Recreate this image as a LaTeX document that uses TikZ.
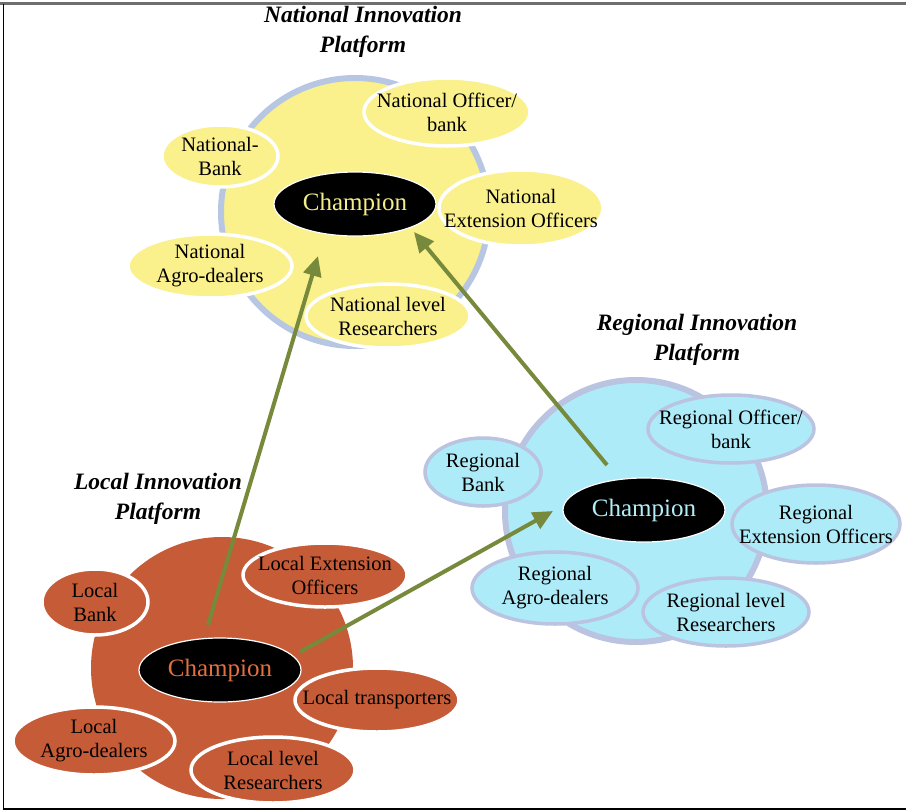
\documentclass[tikz,border=0pt]{standalone}
\usepackage{fontspec}
\setmainfont{Liberation Serif}
\usetikzlibrary{shapes.geometric,arrows.meta}

\definecolor{natfill}{HTML}{FAF08C}
\definecolor{natring}{HTML}{B7C7E3}
\definecolor{natchamp}{HTML}{F3EE8A}
\definecolor{regfill}{HTML}{AEEBF8}
\definecolor{regring}{HTML}{BAC3E0}
\definecolor{regchamp}{HTML}{B3EEF8}
\definecolor{locfill}{HTML}{C65B38}
\definecolor{locchamp}{HTML}{E2703F}
\definecolor{arrowgreen}{HTML}{77893A}
\definecolor{framegray}{HTML}{6E6E6E}

\begin{document}
\begin{tikzpicture}[x=1pt,y=-1pt,
  platform/.style={circle, inner sep=0pt},
  member/.style={ellipse, inner sep=0pt, line width=3.5pt,
    label={[align=center, inner sep=0pt, font=\fontsize{20.5}{24}\selectfont]center:#1}},
  champ/.style={ellipse, inner sep=0pt, fill=black, draw=white, line width=1.2pt,
    minimum width=162pt, minimum height=64pt, font=\fontsize{25}{28}\selectfont},
  ptitle/.style={align=center, font=\fontsize{23.5}{30}\selectfont\bfseries\itshape},
  link/.style={draw=arrowgreen, line width=4pt,
    -{Triangle[length=20pt,width=18pt,fill=arrowgreen]}},
  natmember/.style={member={#1}, fill=natfill, draw=white},
  regmember/.style={member={#1}, fill=regfill, draw=regring},
  locmember/.style={member={#1}, fill=locfill, draw=white}]
\useasboundingbox (0,0) rectangle (906,812);

% frame
\draw[framegray, line width=2.2pt] (0,3.5) -- (906,3.5);
\draw[black, line width=1.6pt] (3.5,4) -- (3.5,809) -- (906,809);

% ---------- National platform ----------
\node[ptitle] (ntitle) at (363,32) {National Innovation\\Platform};
\node[platform, fill=natfill, draw=natring, line width=6pt, minimum size=268pt] (nplat) at (355,212) {};
\node[natmember={National Officer/\\bank}, minimum width=166pt, minimum height=68pt] (nofficer) at (447,112) {};
\node[natmember={National-\\Bank}, minimum width=116pt, minimum height=62pt] (nbank) at (220,156) {};
\node[natmember={National\\Extension Officers}, minimum width=164pt, minimum height=76pt] (next) at (521,208) {};
\node[natmember={National\\Agro-dealers}, minimum width=164pt, minimum height=64pt] (nagro) at (210,266) {};
\node[natmember={National level\\Researchers}, minimum width=164pt, minimum height=64pt] (nres) at (388,316) {};
\node[champ, text=natchamp] (nchamp) at (355,204) {Champion};

% ---------- Regional platform ----------
\node[ptitle] (rtitle) at (697,340) {Regional Innovation\\Platform};
\node[platform, fill=regfill, draw=regring, line width=6pt, minimum size=262pt] (rplat) at (636,511) {};
\node[regmember={Regional Officer/\\bank}, minimum width=166pt, minimum height=68pt] (rofficer) at (731,429) {};
\node[regmember={Regional\\Bank}, minimum width=116pt, minimum height=68pt] (rbank) at (483,472) {};
\node[regmember={Regional\\Extension Officers}, minimum width=168pt, minimum height=78pt] (rext) at (816,524) {};
\node[regmember={Regional\\Agro-dealers}, minimum width=166pt, minimum height=72pt] (ragro) at (555,588) {};
\node[regmember={Regional level\\Researchers}, minimum width=166pt, minimum height=68pt] (rres) at (726,612) {};
\node[champ, text=regchamp] (rchamp) at (644,510) {Champion};

% ---------- Local platform ----------
\node[ptitle] (ltitle) at (158,499) {Local Innovation\\Platform};
\node[platform, fill=locfill, minimum size=262pt] (lplat) at (222,668) {};
\node[locmember={Local\\Bank}, minimum width=106pt, minimum height=66pt] (lbank) at (95,602) {};
\node[locmember={Local Extension\\Officers}, minimum width=164pt, minimum height=64pt] (lext) at (325,575) {};
\node[locmember={Local transporters}, minimum width=164pt, minimum height=64pt] (ltrans) at (377,700) {};
\node[locmember={Local\\Agro-dealers}, minimum width=162pt, minimum height=68pt] (lagro) at (94,741) {};
\node[locmember={Local level\\Researchers}, minimum width=164pt, minimum height=66pt] (lres) at (273,770) {};
\node[champ, text=locchamp] (lchamp) at (220,670) {Champion};

% ---------- links between the champions ----------
\coordinate (lup) at (208,625);
\coordinate (nin) at (318,256);
\coordinate (lright) at (300,652);
\coordinate (rin) at (553,511);
\coordinate (rup) at (607,465);
\coordinate (nin2) at (414,232);
\draw[link] (lup) -- (nin);
\draw[link] (lright) -- (rin);
\draw[link] (rup) -- (nin2);
\end{tikzpicture}
\end{document}
